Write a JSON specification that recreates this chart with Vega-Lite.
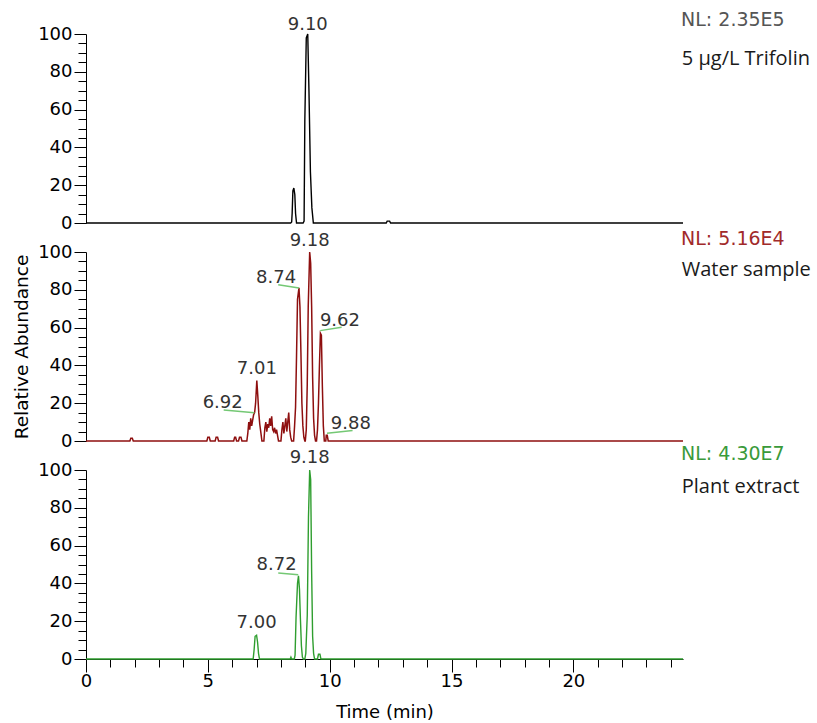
{
  "$schema": "https://vega.github.io/schema/vega-lite/v6.json",
  "background": "white",
  "padding": {"left": 12, "top": 10, "right": 5, "bottom": 1},
  "spacing": 29,
  "bounds": "flush",
  "datasets": {
    "trifolin": [
      {"t": 0, "v": 0}, {"t": 8.40, "v": 0}, {"t": 8.44, "v": 0.5}, {"t": 8.46, "v": 5}, {"t": 8.49, "v": 17},
      {"t": 8.53, "v": 18.5}, {"t": 8.57, "v": 15}, {"t": 8.60, "v": 5}, {"t": 8.64, "v": 0},
      {"t": 8.91, "v": 0}, {"t": 8.95, "v": 1}, {"t": 8.98, "v": 54}, {"t": 9.04, "v": 98}, {"t": 9.10, "v": 100},
      {"t": 9.15, "v": 70}, {"t": 9.21, "v": 27}, {"t": 9.27, "v": 8}, {"t": 9.33, "v": 0},
      {"t": 12.32, "v": 0}, {"t": 12.36, "v": 1}, {"t": 12.46, "v": 1}, {"t": 12.50, "v": 0}, {"t": 24.5, "v": 0}
    ],
    "water": [
      {"t": 0, "v": 0}, {"t": 1.80, "v": 0}, {"t": 1.84, "v": 1.5}, {"t": 1.90, "v": 1.5}, {"t": 1.94, "v": 0},
      {"t": 4.96, "v": 0}, {"t": 5.00, "v": 2}, {"t": 5.06, "v": 2}, {"t": 5.10, "v": 0},
      {"t": 5.30, "v": 0}, {"t": 5.34, "v": 2}, {"t": 5.40, "v": 2}, {"t": 5.44, "v": 0},
      {"t": 6.06, "v": 0}, {"t": 6.10, "v": 2}, {"t": 6.14, "v": 2}, {"t": 6.18, "v": 0},
      {"t": 6.26, "v": 0}, {"t": 6.30, "v": 2}, {"t": 6.36, "v": 2}, {"t": 6.40, "v": 0},
      {"t": 6.60, "v": 0}, {"t": 6.64, "v": 4}, {"t": 6.68, "v": 10}, {"t": 6.72, "v": 6}, {"t": 6.76, "v": 12},
      {"t": 6.80, "v": 8}, {"t": 6.84, "v": 11}, {"t": 6.88, "v": 14}, {"t": 6.92, "v": 15}, {"t": 6.96, "v": 20},
      {"t": 7.01, "v": 32}, {"t": 7.05, "v": 24}, {"t": 7.09, "v": 15}, {"t": 7.13, "v": 9}, {"t": 7.18, "v": 4}, {"t": 7.22, "v": 0},
      {"t": 7.30, "v": 0}, {"t": 7.34, "v": 7}, {"t": 7.38, "v": 10}, {"t": 7.42, "v": 5}, {"t": 7.46, "v": 9},
      {"t": 7.50, "v": 7}, {"t": 7.54, "v": 12}, {"t": 7.58, "v": 8}, {"t": 7.62, "v": 13}, {"t": 7.66, "v": 6},
      {"t": 7.70, "v": 5}, {"t": 7.74, "v": 7}, {"t": 7.78, "v": 4}, {"t": 7.82, "v": 6}, {"t": 7.86, "v": 3}, {"t": 7.90, "v": 0},
      {"t": 8.00, "v": 0}, {"t": 8.04, "v": 6}, {"t": 8.08, "v": 10}, {"t": 8.12, "v": 4}, {"t": 8.16, "v": 8},
      {"t": 8.20, "v": 12}, {"t": 8.24, "v": 5}, {"t": 8.28, "v": 10}, {"t": 8.32, "v": 15}, {"t": 8.36, "v": 6},
      {"t": 8.40, "v": 2}, {"t": 8.44, "v": 0},
      {"t": 8.52, "v": 0}, {"t": 8.56, "v": 8}, {"t": 8.60, "v": 18}, {"t": 8.64, "v": 45}, {"t": 8.68, "v": 75},
      {"t": 8.74, "v": 81}, {"t": 8.78, "v": 71}, {"t": 8.82, "v": 47}, {"t": 8.86, "v": 20}, {"t": 8.90, "v": 8},
      {"t": 8.94, "v": 2}, {"t": 8.98, "v": 0},
      {"t": 9.00, "v": 0}, {"t": 9.04, "v": 6}, {"t": 9.08, "v": 30}, {"t": 9.12, "v": 71}, {"t": 9.18, "v": 100},
      {"t": 9.22, "v": 94}, {"t": 9.26, "v": 71}, {"t": 9.30, "v": 34}, {"t": 9.34, "v": 12}, {"t": 9.38, "v": 3}, {"t": 9.42, "v": 0},
      {"t": 9.46, "v": 0}, {"t": 9.50, "v": 6}, {"t": 9.54, "v": 20}, {"t": 9.58, "v": 40}, {"t": 9.62, "v": 57},
      {"t": 9.66, "v": 56}, {"t": 9.70, "v": 29}, {"t": 9.74, "v": 8}, {"t": 9.78, "v": 0},
      {"t": 9.84, "v": 0}, {"t": 9.86, "v": 3}, {"t": 9.90, "v": 3}, {"t": 9.94, "v": 0}, {"t": 24.5, "v": 0}
    ],
    "plant": [
      {"t": 0, "v": 0}, {"t": 6.86, "v": 0}, {"t": 6.90, "v": 5}, {"t": 6.94, "v": 12}, {"t": 7.00, "v": 12.6},
      {"t": 7.04, "v": 9}, {"t": 7.08, "v": 3}, {"t": 7.12, "v": 0},
      {"t": 8.38, "v": 0}, {"t": 8.41, "v": 1}, {"t": 8.44, "v": 0},
      {"t": 8.55, "v": 0}, {"t": 8.58, "v": 2}, {"t": 8.62, "v": 22}, {"t": 8.68, "v": 40}, {"t": 8.72, "v": 44},
      {"t": 8.76, "v": 37}, {"t": 8.80, "v": 21}, {"t": 8.84, "v": 7}, {"t": 8.88, "v": 1}, {"t": 8.92, "v": 0},
      {"t": 8.98, "v": 0}, {"t": 9.02, "v": 3}, {"t": 9.08, "v": 23}, {"t": 9.13, "v": 75}, {"t": 9.18, "v": 100},
      {"t": 9.22, "v": 95}, {"t": 9.26, "v": 46}, {"t": 9.30, "v": 12}, {"t": 9.34, "v": 3}, {"t": 9.38, "v": 0},
      {"t": 9.50, "v": 0}, {"t": 9.54, "v": 2.5}, {"t": 9.60, "v": 2.5}, {"t": 9.64, "v": 0}, {"t": 24.5, "v": 0}
    ],
    "peaks": [
      {"panel": "A", "t": 9.10, "v": 102.3, "label": "9.10"},
      {"panel": "B", "t": 9.18, "v": 103.3, "label": "9.18"},
      {"panel": "B", "t": 7.80, "v": 83.6, "label": "8.74"},
      {"panel": "B", "t": 10.42, "v": 60.9, "label": "9.62"},
      {"panel": "B", "t": 7.01, "v": 35.3, "label": "7.01"},
      {"panel": "B", "t": 5.61, "v": 17.7, "label": "6.92"},
      {"panel": "B", "t": 10.87, "v": 6.2, "label": "9.88"},
      {"panel": "C", "t": 9.18, "v": 103.9, "label": "9.18"},
      {"panel": "C", "t": 7.82, "v": 47.2, "label": "8.72"},
      {"panel": "C", "t": 7.00, "v": 16.5, "label": "7.00"}
    ],
    "leaders": [
      {"panel": "B", "t": 7.89, "v": 82.7, "t2": 8.74, "v2": 81.0},
      {"panel": "B", "t": 9.61, "v": 58.4, "t2": 10.49, "v2": 60.2},
      {"panel": "B", "t": 5.65, "v": 16.4, "t2": 6.91, "v2": 15.0},
      {"panel": "B", "t": 9.89, "v": 4.1, "t2": 10.94, "v2": 5.5},
      {"panel": "C", "t": 7.89, "v": 45.5, "t2": 8.71, "v2": 44.6}
    ],
    "notes": [
      {"panel": "A", "kind": "nl", "t": 24.42, "v": 104.4, "label": "NL: 2.35E5"},
      {"panel": "A", "kind": "name", "t": 24.45, "v": 83.8, "label": "5 µg/L Trifolin"},
      {"panel": "B", "kind": "nl", "t": 24.42, "v": 103.9, "label": "NL: 5.16E4"},
      {"panel": "B", "kind": "name", "t": 24.45, "v": 87.1, "label": "Water sample"},
      {"panel": "C", "kind": "nl", "t": 24.42, "v": 105.3, "label": "NL: 4.30E7"},
      {"panel": "C", "kind": "name", "t": 24.45, "v": 87.7, "label": "Plant extract"}
    ]
  },
  "vconcat": [
    {
      "width": 597,
      "height": 189,
      "encoding": {
        "x": {"field": "t", "type": "quantitative", "scale": {"domain": [0, 24.5], "nice": false, "zero": false}, "axis": null},
        "y": {
          "field": "v", "type": "quantitative", "scale": {"domain": [0, 100], "nice": false},
          "axis": {
            "title": null,
            "values": [0, 5, 10, 15, 20, 25, 30, 35, 40, 45, 50, 55, 60, 65, 70, 75, 80, 85, 90, 95, 100],
            "labelExpr": "datum.value % 20 === 0 ? datum.label : ''",
            "tickSize": {"condition": {"test": "datum.value % 20 === 0", "value": 12}, "value": 8},
            "labelPadding": 2
          }
        }
      },
      "layer": [
        {"data": {"name": "trifolin"}, "mark": {"type": "line", "color": "#000000", "strokeWidth": 1.4}},
        {
          "data": {"name": "peaks"},
          "transform": [{"filter": "datum.panel === 'A'"}],
          "mark": {"type": "text", "align": "center", "baseline": "alphabetic", "font": "DejaVu Sans", "fontSize": 18, "color": "#333333"},
          "encoding": {"text": {"field": "label"}}
        },
        {
          "data": {"name": "notes"},
          "transform": [{"filter": "datum.panel === 'A' && datum.kind === 'nl'"}],
          "mark": {"type": "text", "align": "left", "baseline": "alphabetic", "font": "DejaVu Sans", "fontSize": 19, "color": "#555555"},
          "encoding": {"text": {"field": "label"}}
        },
        {
          "data": {"name": "notes"},
          "transform": [{"filter": "datum.panel === 'A' && datum.kind === 'name'"}],
          "mark": {"type": "text", "align": "left", "baseline": "alphabetic", "font": "Open Sans", "fontSize": 20, "color": "#1a1a1a"},
          "encoding": {"text": {"field": "label"}}
        }
      ]
    },
    {
      "width": 597,
      "height": 189,
      "encoding": {
        "x": {"field": "t", "type": "quantitative", "scale": {"domain": [0, 24.5], "nice": false, "zero": false}, "axis": null},
        "y": {
          "field": "v", "type": "quantitative", "scale": {"domain": [0, 100], "nice": false},
          "axis": {
            "title": "Relative Abundance",
            "titleFontSize": 18.5,
            "titlePadding": 6,
            "values": [0, 5, 10, 15, 20, 25, 30, 35, 40, 45, 50, 55, 60, 65, 70, 75, 80, 85, 90, 95, 100],
            "labelExpr": "datum.value % 20 === 0 ? datum.label : ''",
            "tickSize": {"condition": {"test": "datum.value % 20 === 0", "value": 12}, "value": 8},
            "labelPadding": 2
          }
        }
      },
      "layer": [
        {"data": {"name": "water"}, "mark": {"type": "line", "color": "#8e0f0f", "strokeWidth": 1.5}},
        {
          "data": {"name": "leaders"},
          "transform": [{"filter": "datum.panel === 'B'"}],
          "mark": {"type": "rule", "color": "#74c874", "strokeWidth": 1.5},
          "encoding": {"x2": {"field": "t2"}, "y2": {"field": "v2"}}
        },
        {
          "data": {"name": "peaks"},
          "transform": [{"filter": "datum.panel === 'B'"}],
          "mark": {"type": "text", "align": "center", "baseline": "alphabetic", "font": "DejaVu Sans", "fontSize": 18, "color": "#333333"},
          "encoding": {"text": {"field": "label"}}
        },
        {
          "data": {"name": "notes"},
          "transform": [{"filter": "datum.panel === 'B' && datum.kind === 'nl'"}],
          "mark": {"type": "text", "align": "left", "baseline": "alphabetic", "font": "DejaVu Sans", "fontSize": 19, "color": "#a12a2a"},
          "encoding": {"text": {"field": "label"}}
        },
        {
          "data": {"name": "notes"},
          "transform": [{"filter": "datum.panel === 'B' && datum.kind === 'name'"}],
          "mark": {"type": "text", "align": "left", "baseline": "alphabetic", "font": "Open Sans", "fontSize": 20, "color": "#1a1a1a"},
          "encoding": {"text": {"field": "label"}}
        }
      ]
    },
    {
      "width": 597,
      "height": 189,
      "encoding": {
        "x": {
          "field": "t", "type": "quantitative", "scale": {"domain": [0, 24.5], "nice": false, "zero": false},
          "axis": {
            "title": "Time (min)",
            "titlePadding": 13,
            "values": [0, 1, 2, 3, 4, 5, 6, 7, 8, 9, 10, 11, 12, 13, 14, 15, 16, 17, 18, 19, 20, 21, 22, 23, 24],
            "labelExpr": "datum.value % 5 === 0 ? datum.label : ''",
            "tickSize": {"condition": {"test": "datum.value % 5 === 0", "value": 13}, "value": 8},
            "labelPadding": 0,
            "labelFlush": false,
            "labelOverlap": false
          }
        },
        "y": {
          "field": "v", "type": "quantitative", "scale": {"domain": [0, 100], "nice": false},
          "axis": {
            "title": null,
            "values": [0, 5, 10, 15, 20, 25, 30, 35, 40, 45, 50, 55, 60, 65, 70, 75, 80, 85, 90, 95, 100],
            "labelExpr": "datum.value % 20 === 0 ? datum.label : ''",
            "tickSize": {"condition": {"test": "datum.value % 20 === 0", "value": 12}, "value": 8},
            "labelPadding": 2
          }
        }
      },
      "layer": [
        {"data": {"name": "plant"}, "mark": {"type": "line", "color": "#2f9e2f", "strokeWidth": 1.4}},
        {
          "data": {"name": "leaders"},
          "transform": [{"filter": "datum.panel === 'C'"}],
          "mark": {"type": "rule", "color": "#74c874", "strokeWidth": 1.5},
          "encoding": {"x2": {"field": "t2"}, "y2": {"field": "v2"}}
        },
        {
          "data": {"name": "peaks"},
          "transform": [{"filter": "datum.panel === 'C'"}],
          "mark": {"type": "text", "align": "center", "baseline": "alphabetic", "font": "DejaVu Sans", "fontSize": 18, "color": "#333333"},
          "encoding": {"text": {"field": "label"}}
        },
        {
          "data": {"name": "notes"},
          "transform": [{"filter": "datum.panel === 'C' && datum.kind === 'nl'"}],
          "mark": {"type": "text", "align": "left", "baseline": "alphabetic", "font": "DejaVu Sans", "fontSize": 19, "color": "#3a9a3a"},
          "encoding": {"text": {"field": "label"}}
        },
        {
          "data": {"name": "notes"},
          "transform": [{"filter": "datum.panel === 'C' && datum.kind === 'name'"}],
          "mark": {"type": "text", "align": "left", "baseline": "alphabetic", "font": "Open Sans", "fontSize": 20, "color": "#1a1a1a"},
          "encoding": {"text": {"field": "label"}}
        }
      ]
    }
  ],
  "config": {
    "view": {"stroke": null},
    "axis": {
      "grid": false,
      "labelFont": "DejaVu Sans",
      "labelFontSize": 18,
      "labelColor": "#000000",
      "titleFont": "DejaVu Sans",
      "titleFontSize": 18,
      "titleFontWeight": "normal",
      "titleColor": "#000000",
      "domainColor": "#000000",
      "domainWidth": 1,
      "tickColor": "#000000",
      "tickWidth": 1
    }
  }
}
